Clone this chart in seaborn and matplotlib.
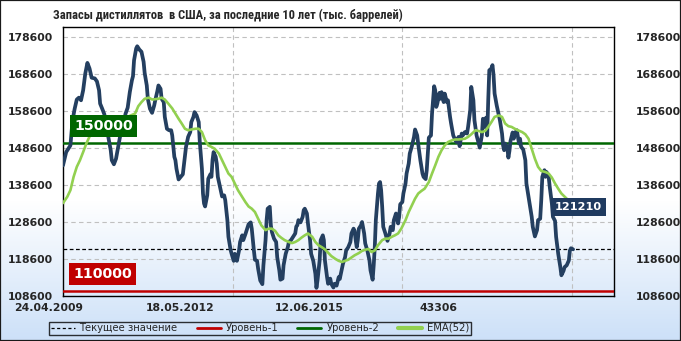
import numpy as np
import pandas as pd
import seaborn as sns
import matplotlib
matplotlib.use("Agg")
import matplotlib.pyplot as plt
from matplotlib.lines import Line2D
from matplotlib.patches import Rectangle
from matplotlib import font_manager

# ---------------- data ----------------
weeks = [0, 3, 7, 9, 11, 13, 15, 17, 19, 21, 23, 25, 27, 30, 32, 34, 35, 37, 39, 41, 43, 45, 46, 48, 50,
         52, 54, 57, 59, 61, 63, 65, 66, 67, 69, 70, 72, 74, 76, 77, 79, 80, 82, 84, 86, 87, 89, 90, 92, 93,
         95, 96, 98, 100, 102, 103, 105, 106, 107, 109, 111, 113, 114, 116, 118, 120, 121, 123, 124, 126,
         128, 129, 131, 132, 133, 134, 136, 137, 139, 140, 141, 142, 144, 145, 146, 148, 150, 152, 153, 155,
         156, 158, 159, 161, 162, 164, 166, 167, 169, 170, 172, 173, 175, 177, 178, 180, 181, 183, 184, 186,
         188, 189, 191, 192, 193, 195, 196, 197, 199, 201, 202, 204, 205, 207, 208, 210, 212, 213, 215, 217,
         219, 220, 221, 222, 224, 226, 227, 228, 230, 231, 233, 234, 236, 238, 239, 240, 242, 243, 245, 246,
         247, 249, 250, 252, 253, 255, 256, 258, 260, 261, 263, 264, 266, 267, 269, 271, 272, 274, 275, 276,
         277, 278, 279, 281, 282, 284, 285, 287, 289, 290, 292, 293, 294, 295, 297, 298, 299, 300, 301, 302,
         304, 306, 308, 309, 311, 312, 314, 316, 317, 318, 320, 321, 323, 324, 326, 327, 329, 331, 332, 334,
         335, 337, 339, 340, 342, 343, 344, 345, 347, 348, 350, 351, 352, 353, 355, 356, 357, 359, 360, 362,
         363, 365, 366, 368, 370, 371, 373, 374, 376, 377, 379, 381, 382, 384, 385, 387, 388, 390, 392, 393,
         395, 396, 397, 399, 400, 401, 402, 404, 405, 406, 407, 409, 411, 412, 414, 415, 416, 417, 419, 420,
         421, 422, 424, 425, 426, 428, 429, 430, 431, 432, 434, 436, 437, 439, 440, 442, 443, 445, 447, 448,
         450, 451, 452, 454, 455, 456, 458, 459, 461, 462, 464, 465, 467, 469, 470, 472, 473, 475, 477, 478,
         479, 481]
stocks = [143900, 147500, 149300, 156100, 159200, 161700, 162200, 161500, 164200, 168700, 171600, 170100,
          167600, 167400, 166600, 164200, 160600, 159200, 157700, 154300, 151100, 148000, 145300, 144200,
          145700, 148900, 152000, 155200, 157900, 159500, 163700, 166900, 168000, 172300, 175500, 176100,
          175200, 174600, 171900, 168900, 165500, 161900, 159200, 158100, 160100, 161500, 164000, 165500,
          164600, 161900, 161000, 157000, 153800, 153400, 153400, 152000, 146200, 145300, 143000, 140100,
          140800, 141500, 143900, 148900, 151600, 152900, 155600, 157000, 158300, 157400, 155600, 150200,
          143000, 136300, 133600, 132800, 135800, 140300, 141500, 140800, 145300, 147500, 146200, 144400,
          140800, 138100, 135500, 135800, 134500, 129100, 124600, 121100, 120000, 118100, 120000, 118100,
          120900, 123200, 125000, 123700, 125300, 126200, 128000, 128500, 126800, 120900, 118400, 118100,
          116000, 112800, 111800, 116900, 123700, 129100, 132200, 132700, 127700, 125900, 124100, 123200,
          119100, 115500, 113000, 113300, 116900, 120000, 121800, 123200, 123700, 124600, 125500, 127400,
          127700, 129100, 128500, 130000, 131800, 132200, 130900, 128200, 123700, 120000, 118100, 114600,
          110800, 112800, 118200, 123700, 125000, 123700, 118200, 113700, 111900, 113300, 111900, 110900,
          111900, 111400, 113700, 113200, 116000, 117300, 119100, 120900, 121800, 123200, 125500, 126800,
          126200, 123700, 121800, 123700, 126800, 127700, 128600, 125500, 122800, 120900, 118200, 115500,
          113000, 116900, 121800, 129100, 136300, 139000, 139400, 137200, 132700, 127300, 125500, 123500,
          125500, 127300, 126400, 129100, 130900, 128200, 130000, 133400, 134000, 136300, 139000, 141700,
          144400, 147100, 149100, 151600, 153600, 152000, 149600, 145300, 141700, 140800, 140200, 142600,
          147100, 151400, 152000, 157900, 165300, 164200, 159700, 160600, 163500, 161900, 163700, 161000,
          163300, 161000, 161500, 157000, 155200, 152000, 150700, 150200, 151600, 149100, 152500, 152000,
          152900, 152500, 154300, 158800, 165100, 161500, 156100, 152000, 149800, 148700, 152000, 156500,
          154300, 156800, 152000, 161500, 169600, 170100, 171000, 168300, 163300, 160100, 157400, 156100,
          152500, 149300, 148000, 149800, 148700, 146000, 147800, 150500, 152800, 151100, 152500, 153400,
          151600, 149800, 151100, 148900, 148200, 145300, 139000, 135400, 133600, 130000, 127300, 124700,
          126400, 129100, 129500, 134500, 140800, 142600, 140800, 142100, 140800, 138100, 133600, 130000,
          128900, 124600, 120000, 116400, 114200, 115400, 116400, 116900, 118200, 120900, 121500, 121210]

ema_weeks = [0, 4, 7, 10, 13, 16, 19, 22, 26, 40, 55, 68, 71, 74, 77, 81, 84, 87, 90, 93, 96, 99, 103, 106,
             109, 112, 115, 118, 121, 125, 128, 131, 134, 137, 140, 143, 147, 150, 153, 156, 159, 162, 165,
             169, 172, 175, 178, 181, 184, 187, 191, 194, 197, 200, 203, 206, 209, 213, 216, 219, 222, 225,
             228, 231, 235, 238, 241, 244, 247, 250, 253, 257, 260, 263, 266, 269, 272, 275, 279, 282, 285,
             288, 291, 294, 297, 301, 304, 307, 310, 313, 316, 319, 323, 326, 329, 332, 335, 338, 341, 345,
             348, 351, 354, 357, 360, 363, 367, 370, 373, 376, 379, 382, 385, 389, 392, 395, 398, 401, 404,
             407, 411, 414, 417, 420, 423, 426, 429, 433, 436, 439, 442, 445, 448, 451, 455, 458, 461, 464,
             467, 470, 475, 481]
ema_values = [133700, 135400, 137200, 140800, 143500, 145300, 147500, 149800, 152300, 154500, 156300, 157900,
              159900, 161000, 161900, 162200, 161700, 161800, 161900, 162200, 161700, 160700, 159300, 157900,
              156500, 155200, 153800, 153400, 153600, 153800, 153800, 152900, 150700, 149300, 148900, 148400,
              147100, 145300, 143500, 141700, 140800, 139000, 137200, 135400, 134000, 132800, 132200, 131300,
              129500, 127700, 126400, 126800, 126800, 126200, 125000, 124300, 123700, 123200, 122900, 123200,
              123700, 124400, 125000, 125500, 124600, 123200, 122300, 121800, 121200, 120300, 119400, 118600,
              118100, 117800, 118100, 118400, 119000, 119600, 120200, 120800, 121100, 121300, 120500, 120900,
              122300, 123700, 124100, 124100, 124600, 125000, 125500, 126800, 129100, 131300, 133100, 134900,
              136300, 137000, 137600, 139400, 141700, 143900, 146200, 148000, 149300, 150200, 150700, 150900,
              150900, 151000, 151100, 151600, 152300, 153400, 153200, 152900, 153200, 154300, 155600, 157000,
              157400, 157000, 155200, 154500, 154300, 153800, 153400, 152900, 152300, 151100, 148400, 145700,
              143500, 142400, 142100, 141700, 140600, 139000, 137600, 136300, 134900, 133700]

x_tick_labels = ["24.04.2009", "18.05.2012", "12.06.2015", "43306"]
x_grid_weeks = [160, 320, 480]
y_ticks = [108600, 118600, 128600, 138600, 148600, 158600, 168600, 178600]
current_value = 121210
level_1 = 110000
level_2 = 150000

title = "Запасы дистиллятов  в США, за последние 10 лет (тыс. баррелей)"
legend_labels = ["Текущее значение", "Уровень-1", "Уровень-2", "EMA(52)"]

# ---------------- styling ----------------
sns.set_theme(style="white")
plt.rcParams["font.family"] = ["DejaVu Sans"]


def pick_family(candidates):
    for fam in candidates:
        try:
            font_manager.findfont(font_manager.FontProperties(family=fam, weight="bold"),
                                  fallback_to_default=False)
            return fam
        except Exception:
            continue
    return "DejaVu Sans"


title_family = pick_family(["Liberation Sans Narrow", "DejaVu Sans Condensed", "Roboto Condensed",
                            "Liberation Sans"])
title_size = 9.0 if title_family in ("Liberation Sans Narrow", "DejaVu Sans Condensed",
                                      "Roboto Condensed") else 8.0

W, H = 681, 341
fig = plt.figure(figsize=(W / 100, H / 100), dpi=100)

# background gradient (white -> light blue toward the bottom)
bg = fig.add_axes([0, 0, 1, 1], zorder=-10)
rows = np.arange(H)
t = np.clip((rows - 200) / (H - 200), 0, 1)[:, None]
top = np.array([1.0, 1.0, 1.0])
bot = np.array([0xCC, 0xE0, 0xF8]) / 255
grad = (1 - t)[:, :, None] * top + t[:, :, None] * bot
bg.imshow(grad, aspect="auto", extent=[0, 1, 0, 1])
bg.set_axis_off()

# main axes
L, R, T, B = 63, 614, 27, 296
ax = fig.add_axes([L / W, 1 - B / H, (R - L) / W, (B - T) / H])
ax.set_facecolor("none")

df = pd.DataFrame({"week": weeks, "stocks": stocks})
ema_df = pd.DataFrame({"week": ema_weeks, "ema": ema_values})

ax.axhline(level_1, color="#C00000", lw=1.8, zorder=3)
ax.axhline(level_2, color="#006600", lw=1.8, zorder=3)
ax.axhline(current_value, color="black", lw=0.9, ls=(0, (3, 2)), zorder=3)

sns.lineplot(data=df, x="week", y="stocks", ax=ax, color="#243F60", lw=2.7, zorder=5,
             solid_joinstyle="round", solid_capstyle="round")
sns.lineplot(data=ema_df, x="week", y="ema", ax=ax, color="#92D050", lw=1.9, zorder=6)

ax.set_xlim(0, 519.6)
ax.set_ylim(108600, 181300)
ax.set_yticks(y_ticks)
ax.set_xticks(x_grid_weeks)
ax.set_xticklabels([])
ax.set_xlabel("")
ax.set_ylabel("")
ax.grid(True, color="#C0C0C0", lw=0.8, ls=(0, (4, 3)))
ax.set_axisbelow(True)
for s in ax.spines.values():
    s.set_visible(True)
    s.set_color("black")
    s.set_linewidth(1.0)

ax.tick_params(axis="x", length=0, labelbottom=False)
ax.tick_params(axis="y", length=0, labelleft=True, labelright=True, labelsize=7.8, pad=7)
ax.set_yticklabels([str(v) for v in y_ticks], fontweight="bold")
for tk in ax.yaxis.get_major_ticks():
    tk.label1.set_fontweight("bold")
    tk.label2.set_fontweight("bold")
    tk.label2.set_fontsize(7.8)
    tk.label2.set_transform(tk.label2.get_transform() +
                            matplotlib.transforms.ScaledTranslation(12 / 100, 0, fig.dpi_scale_trans))

# x labels (positioned as in the reference, not under the grid lines)
x_label_px = [49, 180, 309, 439]
for lbl, px in zip(x_tick_labels, x_label_px):
    fig.text(px / W, 1 - 308 / H, lbl, ha="center", va="center", fontsize=7.8, fontweight="bold")

# level labels
ax.annotate(str(level_2), xy=(0, level_2), xycoords=("axes fraction", "data"),
            xytext=(11, 10), textcoords="offset pixels", ha="left", va="bottom",
            fontsize=10.2, fontweight="bold", color="white", zorder=10,
            bbox=dict(boxstyle="square,pad=0.3", fc="#006600", ec="none"))
ax.annotate(str(level_1), xy=(0, level_1), xycoords=("axes fraction", "data"),
            xytext=(10, 10), textcoords="offset pixels", ha="left", va="bottom",
            fontsize=10.2, fontweight="bold", color="white", zorder=10,
            bbox=dict(boxstyle="square,pad=0.3", fc="#C00000", ec="none"))
ax.annotate(str(current_value), xy=(weeks[-1], current_value), xycoords="data",
            xytext=(-18, 37), textcoords="offset pixels", ha="left", va="bottom",
            fontsize=8.1, fontweight="bold", color="white", zorder=10,
            bbox=dict(boxstyle="square,pad=0.35", fc="#1F3A5F", ec="none"))

# title
ttl = fig.text(53 / W, 1 - 15 / H, title, ha="left", va="center", fontsize=title_size,
               fontweight="bold", family=[title_family, "DejaVu Sans"])
# keep title width close to the reference (~350 px)
fig.canvas.draw()
wpx = ttl.get_window_extent().width
if wpx > 0:
    ttl.set_fontsize(title_size * min(1.15, max(0.8, 350 / wpx)))

# legend
handles = [Line2D([], [], color="black", lw=0.9, ls=(0, (2.5, 2))),
           Line2D([], [], color="#C00000", lw=2),
           Line2D([], [], color="#006600", lw=2),
           Line2D([], [], color="#92D050", lw=3)]
leg = fig.legend(handles, legend_labels, loc="center", bbox_to_anchor=(260 / W, 1 - 328 / H),
                 ncol=4, frameon=True, fontsize=7.2, handlelength=2.4, handletextpad=0.5,
                 columnspacing=1.9, borderpad=0.15, fancybox=False, edgecolor="black",
                 facecolor="none", framealpha=None)
leg.get_frame().set_linewidth(1.0)

# figure border
fig.patches.append(Rectangle((0, 0), 1, 1, transform=fig.transFigure, fill=False,
                             edgecolor="#1a1a1a", lw=1.6, zorder=20))

fig.savefig("out.png", dpi=100)
